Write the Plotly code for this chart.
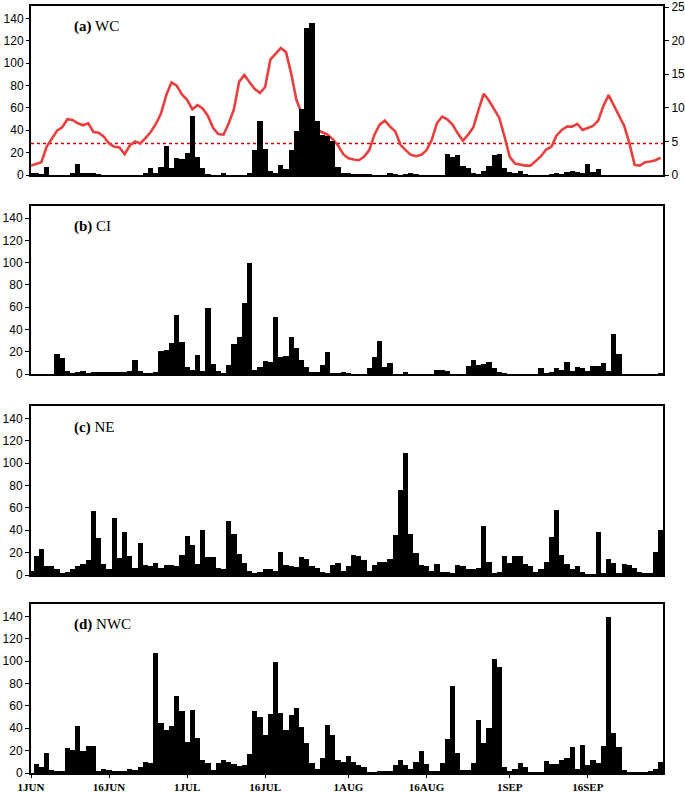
import pandas as pd
import plotly.graph_objects as go

# ---------------- data (daily values, 1 Jun - 30 Sep) ----------------
dates = pd.date_range("2000-06-01", periods=122, freq="D")

wc = [1, 1, 0.5, 7, 0, 0, 0, 0, 1, 10, 1, 2, 1, 0.5, 0, 0, 0, 0, 0, 0,
      0, 0, 2, 6, 2, 7, 26, 6, 15, 14, 20, 53, 16, 6, 0.5, 0, 0, 1, 0, 0,
      0, 0, 1, 22, 48, 23, 4, 1, 9, 5, 22, 39, 59, 131, 136, 48, 36, 35, 30, 7,
      2, 1, 0.5, 0.5, 0.5, 0.5, 0, 0, 0, 1, 0.5, 0, 0.5, 1.5, 0.5, 0, 0, 0, 0, 0,
      19, 16, 18, 8, 6, 2, 0.5, 4, 8, 18, 19, 6, 3, 1.5, 4, 0.5, 0, 0, 0, 0,
      0.5, 1, 0.5, 3, 3.5, 2.5, 1, 10, 3, 5, 0, 0, 0, 0, 0, 0, 0, 0, 0, 0,
      0, 0]

wc_line = [1.4, 1.7, 1.9, 4.2, 5.5, 6.6, 7.1, 8.3, 8.2, 7.7, 7.4, 7.7, 6.4, 6.3, 5.7, 4.7, 4.2, 4.1, 3.1, 4.4,
           5.0, 4.7, 5.5, 6.4, 7.6, 9.2, 11.9, 13.8, 13.3, 12.0, 11.2, 9.8, 10.4, 9.9, 8.8, 7.0, 6.1, 6.0, 7.7, 9.8,
           13.9, 14.9, 13.8, 12.8, 12.2, 13.1, 17.2, 18.0, 18.9, 18.3, 15.1, 11.2, 9.2, 8.0, 7.2, 6.7, 6.3, 6.0, 5.3, 4.4,
           3.1, 2.5, 2.3, 2.2, 2.7, 3.7, 6.0, 7.5, 8.1, 7.2, 6.5, 4.5, 3.7, 3.0, 2.8, 3.0, 3.7, 5.2, 7.7, 8.7,
           8.3, 7.5, 6.2, 5.1, 6.0, 7.1, 9.7, 12.1, 11.1, 9.7, 8.5, 5.7, 2.7, 1.7, 1.5, 1.4, 1.4, 2.1, 2.8, 3.8,
           4.2, 5.9, 6.7, 7.2, 7.2, 7.6, 6.7, 7.0, 7.3, 8.1, 10.3, 11.9, 10.4, 9.0, 7.3, 4.7, 1.5, 1.4, 1.9, 2.0,
           2.2, 2.6]

wc_threshold = 4.7

ci = [0, 0, 0, 0, 0, 18, 14, 3, 0.5, 2, 3, 0.5, 1, 1, 2, 1.5, 2, 1, 2, 3,
      13, 3, 0.5, 0.5, 1, 21, 22, 28, 53, 29, 6, 4, 17, 3, 59, 9, 3, 0.5, 8, 27,
      33, 64, 100, 4, 6, 12, 11, 51, 15, 16, 33, 23, 13, 6, 2, 1, 8, 20, 0.5, 0.5,
      1, 0.5, 0, 0, 0, 5, 15, 30, 6, 10, 0, 0, 1, 0, 0, 0, 0, 0, 4, 4,
      3, 0, 0, 0, 7, 13, 8, 9, 11, 5, 1.5, 0.5, 0, 0, 0, 0, 0, 0, 5, 0.5,
      2, 5, 4, 11, 3, 6, 5, 3, 7, 7, 10, 3, 36, 18, 0, 0, 0, 0, 0, 0,
      0, 0.5]

ne = [4, 17, 23, 8, 8, 5, 1, 3, 5, 8, 10, 13, 57, 33, 10, 5, 51, 15, 38, 17,
      6, 29, 9, 8, 11, 6, 9, 9, 8, 18, 35, 27, 10, 40, 16, 16, 6, 5, 48, 37,
      19, 11, 4, 1.5, 3, 5, 5, 4, 21, 9, 8, 7, 16, 14, 8, 6, 3, 2, 9, 11,
      4, 8, 18, 17, 13, 4, 9, 12, 12, 14, 36, 76, 109, 37, 20, 9, 8, 4, 10, 3,
      3, 2, 9, 8, 5, 5, 6, 44, 12, 2, 3, 17, 11, 17, 17, 10, 8, 3, 5, 12,
      34, 58, 18, 10, 5, 8, 3, 0.5, 0.5, 38, 1.5, 14, 11, 2, 10, 9, 6, 3, 1.5, 2,
      21, 40]

nwc = [0, 8, 5, 18, 3, 1, 1, 22, 21, 42, 20, 24, 24, 1, 4, 3, 1.5, 1, 2, 4,
       3, 5, 10, 9, 107, 45, 38, 42, 69, 55, 28, 56, 31, 12, 9, 3, 9, 12, 10, 8,
       6, 7, 17, 55, 50, 34, 53, 99, 54, 38, 52, 58, 41, 27, 9, 4, 13, 43, 34, 12,
       10, 15, 10, 7, 5, 0.5, 0.5, 1, 1.5, 1, 7, 12, 7, 4, 10, 20, 8, 2, 1, 9,
       30, 78, 18, 3, 3, 9, 47, 27, 40, 102, 95, 5, 1, 4, 9, 5, 0.5, 0.5, 0.5, 11,
       8, 8, 12, 13, 23, 4, 25, 7, 12, 9, 24, 139, 36, 23, 3, 0.5, 0.5, 0.5, 0.5, 1,
       4, 10]

panel_names = ["(a)", "(b)", "(c)", "(d)"]
region_names = ["WC", "CI", "NE", "NWC"]
tick_dates = ["2000-06-01", "2000-06-16", "2000-07-01", "2000-07-16",
              "2000-08-01", "2000-08-16", "2000-09-01", "2000-09-16"]
tick_labels = ["1JUN", "16JUN", "1JUL", "16JUL", "1AUG", "16AUG", "1SEP", "16SEP"]
left_ticks = [0, 20, 40, 60, 80, 100, 120, 140]
right_ticks = [0, 5, 10, 15, 20, 25]

# ---------------- figure ----------------
W, H = 685, 792
ML, MR, MT, MB = 31, 22, 6, 19
ph = H - MT - MB


def ydom(top_px, bot_px):
    return [(H - MB - bot_px) / ph, (H - MB - top_px) / ph]


doms = [ydom(6, 175), ydom(206, 374), ydom(406, 575), ydom(604, 773)]

DAY_MS = 86400000
x_start = dates[0]
x_end = dates[0] + pd.Timedelta(hours=121.45 * 24)
bar_width = DAY_MS

fig = go.Figure()

# Panel (a): red line on base axis y (right side), bars on y2 overlaying (left side)
fig.add_trace(go.Scatter(x=dates, y=wc_line, mode="lines",
                         line=dict(color="#e8403f", width=2.6),
                         xaxis="x", yaxis="y", showlegend=False))
fig.add_trace(go.Bar(x=dates, y=wc, width=bar_width, marker=dict(color="black", line=dict(width=0)),
                     xaxis="x", yaxis="y2", showlegend=False))
fig.add_trace(go.Bar(x=dates, y=ci, width=bar_width, marker=dict(color="black", line=dict(width=0)),
                     xaxis="x2", yaxis="y3", showlegend=False))
fig.add_trace(go.Bar(x=dates, y=ne, width=bar_width, marker=dict(color="black", line=dict(width=0)),
                     xaxis="x3", yaxis="y4", showlegend=False))
fig.add_trace(go.Bar(x=dates, y=nwc, width=bar_width, marker=dict(color="black", line=dict(width=0)),
                     xaxis="x4", yaxis="y5", showlegend=False))

tickfont_y = dict(family="Liberation Sans, Arial", size=12, color="black")
tickfont_x = dict(family="Liberation Serif, Times New Roman", size=11, color="black", weight="bold")

LEFT_MAX = 151
RIGHT_MAX = LEFT_MAX / 6.0

xcommon = dict(type="date", range=[x_start, x_end], showgrid=False, zeroline=False,
               showline=True, linecolor="black", linewidth=2, mirror=True, automargin=False,
               tickvals=tick_dates, ticktext=tick_labels, tickfont=tickfont_x)

layout = dict(
    width=W, height=H,
    margin=dict(l=ML, r=MR, t=MT, b=MB, autoexpand=False),
    paper_bgcolor="white", plot_bgcolor="white",
    bargap=0, barmode="overlay",
    showlegend=False,
)

xaxes_anchor = {"xaxis": "y", "xaxis2": "y3", "xaxis3": "y4", "xaxis4": "y5"}
for i, (xname, yanc) in enumerate(xaxes_anchor.items()):
    d = dict(xcommon)
    d["anchor"] = yanc
    if xname == "xaxis4":
        d.update(ticks="outside", ticklen=3, tickwidth=1, tickcolor="black", showticklabels=True)
    else:
        d.update(ticks="", showticklabels=False)
    layout[xname] = d

# right axis for panel (a)
layout["yaxis"] = dict(domain=doms[0], anchor="x", side="right", range=[0, RIGHT_MAX],
                       tickvals=right_ticks, ticks="outside", ticklen=4, tickwidth=1,
                       tickcolor="black", tickfont=tickfont_y, showgrid=False, zeroline=False,
                       showline=True, linecolor="black", linewidth=2, mirror=True, automargin=False)
# left axis (bars) for panel (a)
layout["yaxis2"] = dict(overlaying="y", anchor="x", side="left", range=[0, LEFT_MAX],
                        tickvals=left_ticks, ticks="outside", ticklen=4, tickwidth=1,
                        tickcolor="black", tickfont=tickfont_y, showgrid=False, zeroline=False,
                        showline=False, automargin=False)
for k, (yname, xanc) in enumerate([("yaxis3", "x2"), ("yaxis4", "x3"), ("yaxis5", "x4")]):
    layout[yname] = dict(domain=doms[k + 1], anchor=xanc, side="left", range=[0, LEFT_MAX],
                         tickvals=left_ticks, ticks="outside", ticklen=4, tickwidth=1,
                         tickcolor="black", tickfont=tickfont_y, showgrid=False, zeroline=False,
                         showline=True, linecolor="black", linewidth=2, mirror=True, automargin=False)

fig.update_layout(**layout)

# threshold dotted line in panel (a)
fig.add_shape(type="line", xref="x domain", yref="y", x0=0, x1=1,
              y0=wc_threshold, y1=wc_threshold,
              line=dict(color="#dd0000", width=1.4, dash="dot"), layer="below")

# panel labels
label_y_px = [26.7, 226.7, 428, 624]
for name, reg, ypx in zip(panel_names, region_names, label_y_px):
    fig.add_annotation(xref="paper", yref="paper",
                       x=(71.5 - ML) / (W - ML - MR), y=(H - MB - ypx) / ph,
                       xanchor="left", yanchor="middle", showarrow=False,
                       text=f"<b>{name}</b> {reg}",
                       font=dict(family="Liberation Serif, Times New Roman", size=15, color="black"))

fig.write_html("out.html", config={"displayModeBar": False},
               post_script="document.body.style.margin='0px';document.body.style.padding='0px';")
